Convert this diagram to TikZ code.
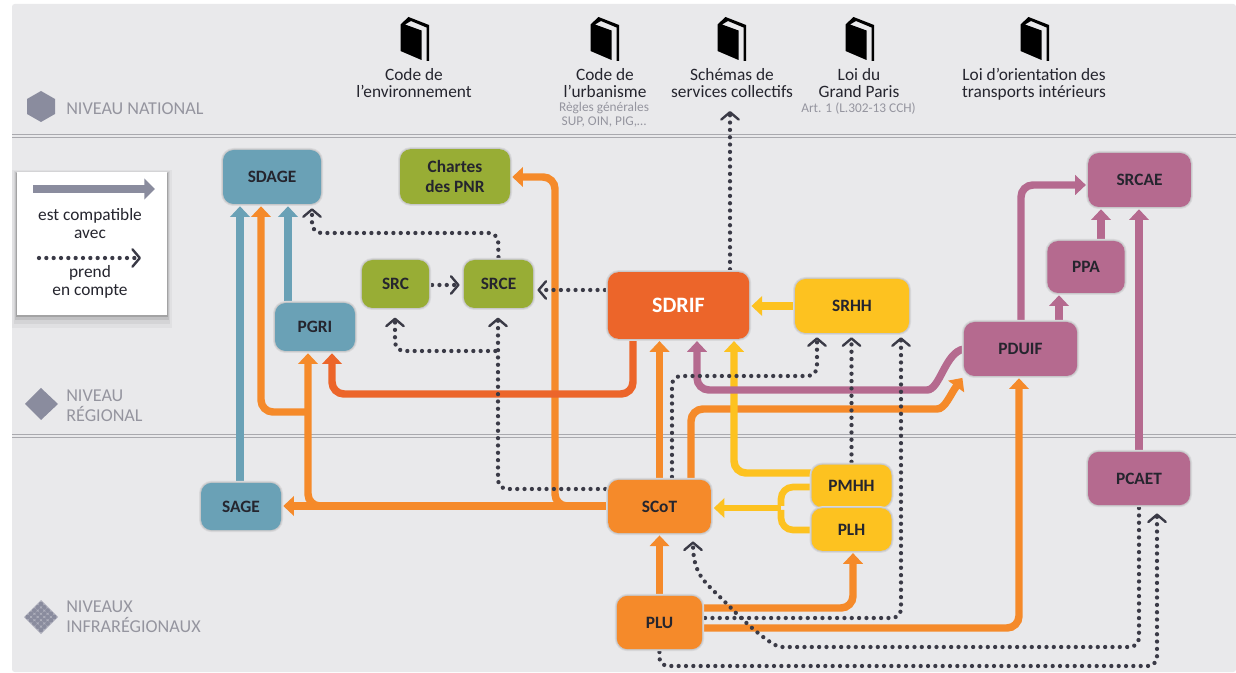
\documentclass[tikz,border=0pt]{standalone}
\usepackage{fontspec}
\setmainfont{Carlito}
\usetikzlibrary{arrows.meta,calc}
\pgfdeclarelayer{bg}
\pgfdeclarelayer{links}
\pgfsetlayers{bg,links,main}
\definecolor{panel}{HTML}{E9E9EB}
\definecolor{rule}{HTML}{A9A9AE}
\definecolor{slate}{HTML}{8A8C9E}
\definecolor{lev}{HTML}{95959F}
\definecolor{ink}{HTML}{25252E}
\definecolor{dots}{HTML}{3A3A46}
\definecolor{cblue}{HTML}{6AA1B6}
\definecolor{cgreen}{HTML}{98AD35}
\definecolor{corange}{HTML}{F58A2A}
\definecolor{cred}{HTML}{EC652A}
\definecolor{cyellow}{HTML}{FDC220}
\definecolor{cpurple}{HTML}{B56A8F}
\tikzset{
  x=0.75pt,y=-0.75pt,
  box/.style={rectangle,rounded corners=8pt,inner sep=0pt,align=center,text=ink,
    font=\fontsize{13}{15.5}\selectfont\bfseries,
    preaction={draw=black!7!panel,line width=3pt},
    preaction={draw=black!14!panel,line width=1.5pt}},
  heavy/.style={line width=5.6pt,rounded corners=9pt,
    -{Triangle[width=14.5pt,length=8pt]},shorten >=1.5pt},
  thinline/.style={heavy,line width=5pt},
  dotline/.style={draw=dots,line width=3.2pt,line cap=round,dash pattern=on 0pt off 5.5pt,
    rounded corners=7pt,
    -{Straight Barb[length=5.5pt,width=13pt,line width=1.8pt,round]},shorten >=3pt,shorten <=2pt},
  law/.style={font=\fontsize{13}{13}\selectfont,text=ink,align=center,inner sep=0pt,anchor=north},
  lawsub/.style={font=\fontsize{10}{10.4}\selectfont,text=lev,align=center,inner sep=0pt,anchor=north},
  levtxt/.style={font=\fontsize{13.6}{15}\selectfont,text=lev,align=left,inner sep=0pt,anchor=west},
  legtxt/.style={font=\fontsize{13}{13}\selectfont,text=ink,align=center,inner sep=0pt},
}
\newcommand{\bookicon}[2]{%
  \begin{scope}[shift={(#1,#2)}]
    \fill[black] (-14.5,-13.5) -- (-6.5,-21) -- (14,-13) -- (14,23) -- (11.5,23) -- (11.5,-10.5)
      -- (-4,-17) -- (-10,-13.5) -- (6.5,-7.5) -- (6.5,22) -- (-14.5,13) -- cycle;
  \end{scope}}
\begin{document}
\begin{tikzpicture}
\useasboundingbox (0,0) rectangle (1236,673);

% named bends
\coordinate (b1) at (261,412);
\coordinate (b2) at (308,412);
\coordinate (b3) at (308,506);
\coordinate (b4) at (555,506);
\coordinate (b5) at (555,177);
\coordinate (b6) at (633,394);
\coordinate (b7) at (332,394);
\coordinate (b8) at (697,390);
\coordinate (b9) at (734,473);
\coordinate (b10) at (691,409);
\coordinate (b11) at (1019,628);
\coordinate (b12) at (853,608);
\coordinate (b13) at (901,618);
\coordinate (b14) at (672,376);
\coordinate (b15) at (817,376);
\coordinate (b16) at (781,487);
\coordinate (b17) at (781,530);
\coordinate (b18) at (781,508);
\coordinate (b19) at (1021,185);
\coordinate (b20) at (1059,322);
\coordinate (b21) at (1101,241);
\coordinate (b22) at (1139,647);
\coordinate (b23) at (1157,666);
\coordinate (b24) at (659,666);
\coordinate (b25) at (498,233);
\coordinate (b26) at (312,233);
\coordinate (b27) at (498,489);
\coordinate (b28) at (498,351);
\coordinate (b29) at (395,351);
\coordinate (b30) at (730,107);
\coordinate (b31) at (693,545);
\coordinate (b32) at (240,300);
\coordinate (b33) at (288,300);
\coordinate (b34) at (560,290);
\coordinate (b35) at (800,306);
\coordinate (b36) at (447,285);
\coordinate (b37) at (964,349);

\begin{pgfonlayer}{bg}
  \fill[white] (0,0) rectangle (1236,673);
  \fill[panel,rounded corners=2pt] (12,4) rectangle (1236,672);
  \foreach \yy in {134,137,434,437}
    \draw[rule,line width=0.7pt] (12,\yy) -- (1236,\yy);
\end{pgfonlayer}

% ---- nodes
\node[box,fill=cblue,minimum width=73.5pt,minimum height=40.5pt] (sdage) at (272,177) {SDAGE};
\node[box,fill=cblue,minimum width=60pt,minimum height=36pt] (pgri) at (315,327) {PGRI};
\node[box,fill=cblue,minimum width=60pt,minimum height=35.5pt] (sage) at (241,506.5) {SAGE};
\node[box,fill=cgreen,minimum width=82.5pt,minimum height=41pt,text=ink] (chartes) at (455,176.5) {Chartes\\des PNR};
\node[box,fill=cgreen,minimum width=50.5pt,minimum height=36pt] (src) at (395.5,284) {SRC};
\node[box,fill=cgreen,minimum width=52pt,minimum height=36pt] (srce) at (498.5,284) {SRCE};
\node[box,fill=cred,minimum width=106pt,minimum height=50pt,text=white,font=\fontsize{16.5}{18}\selectfont\bfseries] (sdrif) at (678.5,305.5) {SDRIF};
\node[box,fill=cyellow,minimum width=85.5pt,minimum height=40.5pt] (srhh) at (852,306) {SRHH};
\node[box,fill=corange,minimum width=77pt,minimum height=40pt] (scot) at (659.5,506.5) {SCoT};
\node[box,fill=cyellow,minimum width=60pt,minimum height=32pt] (pmhh) at (851.5,486) {PMHH};
\node[box,fill=cyellow,minimum width=60pt,minimum height=32pt] (plh) at (851.5,529.5) {PLH};
\node[box,fill=corange,minimum width=64pt,minimum height=40pt] (plu) at (659.5,622.5) {PLU};
\node[box,fill=cpurple,minimum width=85pt,minimum height=40.5pt] (pduif) at (1020.5,349) {PDUIF};
\node[box,fill=cpurple,minimum width=58pt,minimum height=39pt] (ppa) at (1086,267) {PPA};
\node[box,fill=cpurple,minimum width=77pt,minimum height=40.5pt] (srcae) at (1139.5,180) {SRCAE};
\node[box,fill=cpurple,minimum width=76.5pt,minimum height=40pt] (pcaet) at (1139,478.5) {PCAET};

% ---- national laws
\bookicon{415}{38}
\bookicon{605}{38}
\bookicon{732}{38}
\bookicon{860}{38}
\bookicon{1035}{38}
\node[law] (l1) at (414,68) {Code de\\l’environnement};
\node[law] (l2) at (605,68) {Code de\\l’urbanisme};
\node[lawsub] (l2s) at (604,102) {Règles générales\\SUP, OIN, PIG,…};
\node[law] (l3) at (732,68) {Schémas de\\services collectifs};
\node[law] (l4) at (859,68) {Loi du\\Grand Paris};
\node[lawsub] (l4s) at (858.5,102) {Art. 1 (L.302-13 CCH)};
\node[law] (l5) at (1034,68) {Loi d’orientation des\\transports intérieurs};

% ---- level labels
\fill[slate] (41,91) -- (55,99) -- (55,114) -- (41,122) -- (27,114) -- (27,99) -- cycle;
\fill[slate] (41,388) -- (58,404) -- (41,420) -- (25,404) -- cycle;
\fill[slate!60!panel] (41,600) -- (58,617) -- (41,634) -- (24,617) -- cycle;
\foreach \i in {-2,...,2} \foreach \j in {-2,...,2}
  \fill[slate] ({41+(\i+\j)*3.3},{617+(\i-\j)*3.2}) circle (2.4);
\node[levtxt] (n1) at (66,109) {NIVEAU NATIONAL};
\node[levtxt] (n2) at (66,406) {NIVEAU\\RÉGIONAL};
\node[levtxt] (n3) at (66,617) {NIVEAUX\\INFRARÉGIONAUX};

% ---- legend
\fill[black!4!panel] (12,170) rectangle (172,328);
\fill[black!9!panel] (14,171) rectangle (170,324);
\fill[black!17!panel] (15,172) rectangle (169,320);
\fill[black!30!panel] (16,173) rectangle (168,317);
\node[fill=white,minimum width=112.5pt,minimum height=107pt,inner sep=0pt] (legend) at (92,243.5) {};
\coordinate (la) at (33,189);
\coordinate (lb) at (155,189);
\coordinate (lc) at (39,258);
\coordinate (ld) at (141,258);
\draw[slate,line width=6.6pt,-{Triangle[width=15.5pt,length=8pt]}] (la) -- (lb);
\draw[dotline,shorten >=0pt,shorten <=0pt] (lc) -- (ld);
\node[legtxt] (t1) at (90,223.5) {est compatible\\avec};
\node[legtxt] (t2) at (90,282) {prend\\en compte};

% ---- connectors
\begin{pgfonlayer}{links}
  % blue
  \draw[heavy,cblue] (sage.north -| b32) -- (sdage.south -| b32);
  \draw[heavy,cblue] (pgri.north -| b33) -- (sdage.south -| b33);
  % purple
  \draw[heavy,cpurple] (pcaet.north -| b22) -- (srcae.south -| b22);
  \draw[heavy,cpurple] (pduif.north -| b19) -- (b19) -- (srcae.west |- b19);
  \draw[heavy,cpurple] (pduif.north -| b20) -- (ppa.south -| b20);
  \draw[heavy,cpurple] (ppa.north -| b21) -- (srcae.south -| b21);
  % orange
  \draw[heavy,corange] (b2) -- (b1) -- (sdage.south -| b1);
  \draw[heavy,corange] (scot.west |- b3) -- (sage.east |- b3);
  \draw[heavy,corange] (scot.west |- b3) -- (b3) -- (pgri.south -| b3);
  \draw[heavy,corange] (scot.west |- b4) -- (b4) -- (b5) -- (chartes.east |- b5);
  \draw[heavy,cred] (sdrif.south -| b6) -- (b6) -- (b7) -- (pgri.south -| b7);
  \draw[heavy,corange] (plu.north) -- (scot.south);
  \draw[heavy,corange] (scot.north) -- (sdrif.south -| scot.north);
  \draw[heavy,corange] (scot.north -| b10) -- (b10) -- (925,409) .. controls (945,409) and (950,395) .. (pduif.south west);
  \draw[heavy,corange] (plu.east |- b11) -- (b11) -- (pduif.south -| b11);
  \draw[heavy,corange] (plu.east |- b12) -- (b12) -- (plh.south -| b12);
  % yellow
  \draw[heavy,cyellow] (pmhh.west |- b9) -- (b9) -- (sdrif.south -| b9);
  \draw[heavy,cyellow] (srhh.west |- b35) -- (sdrif.east |- b35);
  \draw[thinline,cyellow,-] (pmhh.west |- b16) -- (b16) -- (b18);
  \draw[thinline,cyellow,-] (plh.west |- b17) -- (b17) -- (b18);
  \draw[thinline,cyellow,shorten >=2pt] (b18) -- (scot.east |- b18);
  % purple to SDRIF
  \draw[heavy,cpurple] (b37) .. controls (945,352) and (940,390) .. (915,390) -- (b8) -- (sdrif.south -| b8);
  % dotted
  \draw[dotline] (sdrif.north -| b30) -- (b30);
  \draw[dotline] (sdrif.west |- b34) -- (srce.east |- b34);
  \draw[dotline] (src.east |- b36) -- (srce.west |- b36);
  \draw[dotline] (srce.north) -- (b25) -- (b26) -- (sdage.south -| b26);
  \draw[dotline,shorten >=7pt] (scot.west |- b27) -- (b27) -- (srce.south -| b27);
  \draw[dotline,shorten >=7pt] (b28) -- (b29) -- (src.south -| b29);
  \draw[dotline] (scot.north -| b14) -- (b14) -- (b15) -- (srhh.south -| b15);
  \draw[dotline] (pmhh.north) -- (pmhh.north |- srhh.south);
  \draw[dotline] (plu.east |- b13) -- (b13) -- (srhh.south -| b13);
  \draw[dotline,shorten >=6pt] (pcaet.south -| b22) -- (b22) -- (790,647)
     .. controls (775,647) and (755,632) .. (730,607)
     .. controls (705,582) and (693,575) .. (scot.south -| b31);
  \draw[dotline,shorten >=6pt] (plu.south) -- (b24) -- (b23) -- (pcaet.south -| b23);
\end{pgfonlayer}
\end{tikzpicture}
\end{document}
